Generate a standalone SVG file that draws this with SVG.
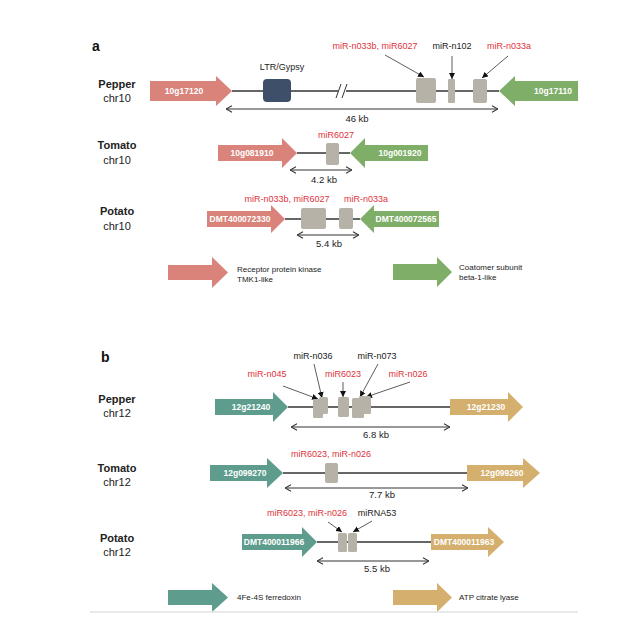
<svg xmlns="http://www.w3.org/2000/svg" width="618" height="628" viewBox="0 0 618 628">
<style>
text{font-family:"Liberation Sans",Arial,sans-serif}
.panel{font-size:14px;font-weight:bold;fill:#111}
.sp{font-size:11px;font-weight:bold;fill:#222;text-anchor:middle}
.chr{font-size:11px;fill:#222;text-anchor:middle}
.mir{font-size:9px;fill:#e0323c;text-anchor:middle}
.mirk{font-size:9px;fill:#222;text-anchor:middle}
.gene{font-size:8.5px;font-weight:bold;fill:#fff;text-anchor:middle}
.kb{font-size:9.5px;fill:#222;text-anchor:middle}
.leg{font-size:8px;fill:#222}
.red{fill:#d9837a}
.grn{fill:#7fae69}
.teal{fill:#5e9d8e}
.gold{fill:#d5af6d}
.box{fill:#b6b2a7}
.chrom{stroke:#333;stroke-width:1.5;fill:none}
.dim{stroke:#333;stroke-width:1;fill:none;marker-start:url(#open);marker-end:url(#open)}
.lead{stroke:#333;stroke-width:0.8;fill:none;marker-end:url(#tri)}
</style>
<defs>
<marker id="open" viewBox="0 0 10 10" refX="9.5" refY="5" markerWidth="8" markerHeight="8" markerUnits="userSpaceOnUse" orient="auto-start-reverse">
<path d="M2,1 L9.5,5 L2,9" fill="none" stroke="#333" stroke-width="1.3"/>
</marker>
<marker id="tri" viewBox="0 0 10 10" refX="10" refY="5" markerWidth="6" markerHeight="6" markerUnits="userSpaceOnUse" orient="auto">
<path d="M0,0 L10,5 L0,10 Z" fill="#111"/>
</marker>
</defs>
<rect width="618" height="628" fill="#fff"/>

<text class="panel" x="92" y="51">a</text>
<text class="panel" x="101" y="362">b</text>

<g id="connectors">
<!-- panel a -->
<line class="chrom" x1="232" y1="91" x2="338" y2="91"/>
<line class="chrom" x1="346" y1="91" x2="499" y2="91"/>
<path d="M336,98 L341,84 M342,98 L347,84" stroke="#333" stroke-width="1" fill="none"/>
<line class="dim" x1="226" y1="109" x2="498" y2="109"/>
<line class="lead" x1="385" y1="55" x2="424" y2="77"/>
<line class="lead" x1="452" y1="56" x2="452" y2="79"/>
<line class="lead" x1="508" y1="56" x2="482" y2="78"/>
<line class="chrom" x1="297" y1="153" x2="350" y2="153"/>
<line class="dim" x1="290" y1="170" x2="352" y2="170"/>
<line class="chrom" x1="285" y1="219" x2="360" y2="219"/>
<line class="dim" x1="297" y1="235" x2="359" y2="235"/>
<!-- panel b -->
<line class="chrom" x1="288" y1="407" x2="450" y2="407"/>
<line class="dim" x1="291" y1="427" x2="450" y2="427"/>
<line class="lead" x1="283" y1="386" x2="318" y2="399"/>
<line class="lead" x1="314" y1="364" x2="322" y2="398"/>
<line class="lead" x1="343" y1="382" x2="343" y2="397"/>
<line class="lead" x1="378" y1="364" x2="360" y2="397"/>
<line class="lead" x1="410" y1="382" x2="366" y2="397"/>
<line class="chrom" x1="283" y1="473" x2="467" y2="473"/>
<line class="dim" x1="285" y1="488" x2="468" y2="488"/>
<line class="chrom" x1="317" y1="542" x2="431" y2="542"/>
<line class="dim" x1="317" y1="561" x2="429" y2="561"/>
<line class="lead" x1="328" y1="522" x2="342" y2="532"/>
<line class="lead" x1="372" y1="521" x2="353" y2="532"/>
</g>

<g id="labels-a">
<text class="sp" x="117" y="88">Pepper</text>
<text class="chr" x="117" y="102">chr10</text>
<text class="sp" x="117" y="149">Tomato</text>
<text class="chr" x="117" y="164">chr10</text>
<text class="sp" x="117" y="215">Potato</text>
<text class="chr" x="117" y="230">chr10</text>
</g>

<g id="pepper-a">
<polygon id="g10g17120" class="red" points="150,81 216,81 216,76 232,91 216,106 216,101 150,101"/>
<text class="gene" x="184" y="94">10g17120</text>
<g id="ltr"><rect x="263" y="79" width="28" height="23" rx="4" fill="#3e5069"/><text class="mirk" x="282" y="70">LTR/Gypsy</text></g>
<rect class="box" x="416" y="78" width="20" height="25" rx="2"/>
<rect class="box" x="448" y="79" width="7" height="24" rx="1"/>
<rect class="box" x="473" y="79" width="14" height="24" rx="2"/>
<polygon id="g10g17110" class="grn" points="578,81 515,81 515,76 499,91 515,106 515,101 578,101"/>
<text class="gene" x="553" y="94">10g17110</text>
<text class="mir" x="375" y="49">miR-n033b, miR6027</text>
<text class="mirk" x="452" y="49">miR-n102</text>
<text class="mir" x="509" y="49">miR-n033a</text>
<text class="kb" x="357" y="122">46 kb</text>
</g>

<g id="tomato-a">
<polygon class="red" points="218,145 282,145 282,138 297,153 282,168 282,161 218,161"/>
<text class="gene" x="252" y="156">10g081910</text>
<rect class="box" x="326" y="143" width="13" height="22" rx="2"/>
<polygon class="grn" points="428,145 365,145 365,138 350,153 365,168 365,161 428,161"/>
<text class="gene" x="400" y="156">10g001920</text>
<text class="mir" x="336" y="138">miR6027</text>
<text class="kb" x="324" y="183">4.2 kb</text>
</g>

<g id="potato-a">
<polygon class="red" points="207,211 271,211 271,205 285,219 271,233 271,227 207,227"/>
<text class="gene" x="240" y="222">DMT400072330</text>
<rect class="box" x="301" y="208" width="25" height="21" rx="2"/>
<rect class="box" x="339" y="208" width="14" height="21" rx="2"/>
<polygon class="grn" points="439,211 374,211 374,205 360,219 374,233 374,227 439,227"/>
<text class="gene" x="406" y="222">DMT400072565</text>
<text class="mir" x="287" y="202">miR-n033b, miR6027</text>
<text class="mir" x="366" y="202">miR-n033a</text>
<text class="kb" x="329" y="247">5.4 kb</text>
</g>

<g id="legend-a">
<polygon class="red" points="168,265 212,265 212,257 228,272.5 212,288 212,280 168,280"/>
<text class="leg" x="237" y="272">Receptor protein kinase</text>
<text class="leg" x="237" y="282">TMK1-like</text>
<polygon class="grn" points="393,264 437,264 437,257 452,272 437,287 437,280 393,280"/>
<text class="leg" x="459" y="270">Coatomer subunit</text>
<text class="leg" x="459" y="280"> beta-1-like</text>
</g>

<g id="labels-b">
<text class="sp" x="117" y="403">Pepper</text>
<text class="chr" x="117" y="417">chr12</text>
<text class="sp" x="117" y="472">Tomato</text>
<text class="chr" x="117" y="486">chr12</text>
<text class="sp" x="117" y="542">Potato</text>
<text class="chr" x="117" y="556">chr12</text>
</g>

<g id="pepper-b">
<polygon class="teal" points="215,399 273,399 273,392 288,407 273,422 273,415 215,415"/>
<text class="gene" x="251" y="410">12g21240</text>
<rect class="box" x="313" y="399" width="10" height="19" rx="1.5"/>
<rect class="box" x="319" y="397" width="9" height="17" rx="1.5"/>
<rect class="box" x="338" y="397" width="11" height="20" rx="1.5"/>
<rect class="box" x="352" y="398" width="12" height="20" rx="1.5"/>
<rect class="box" x="359" y="396" width="12" height="18" rx="1.5"/>
<polygon class="gold" points="450,399 508,399 508,392 523,407 508,422 508,415 450,415"/>
<text class="gene" x="486" y="410">12g21230</text>
<text class="mirk" x="313" y="359">miR-n036</text>
<text class="mirk" x="377" y="359">miR-n073</text>
<text class="mir" x="267" y="377">miR-n045</text>
<text class="mir" x="343" y="377">miR6023</text>
<text class="mir" x="408" y="377">miR-n026</text>
<text class="kb" x="376" y="438">6.8 kb</text>
</g>

<g id="tomato-b">
<polygon class="teal" points="210,465 267,465 267,458 283,473 267,488 267,481 210,481"/>
<text class="gene" x="245" y="476">12g099270</text>
<rect class="box" x="325" y="463" width="13" height="20" rx="2"/>
<polygon class="gold" points="467,465 523,465 523,458 540,473 523,488 523,481 467,481"/>
<text class="gene" x="502" y="476">12g099260</text>
<text class="mir" x="331" y="457">miR6023, miR-n026</text>
<text class="kb" x="382" y="498">7.7 kb</text>
</g>

<g id="potato-b">
<polygon class="teal" points="242,534 302,534 302,527 317,542 302,557 302,550 242,550"/>
<text class="gene" x="274" y="545">DMT400011966</text>
<rect class="box" x="338" y="533" width="9" height="19" rx="1.5"/>
<rect class="box" x="348" y="533" width="9" height="19" rx="1.5"/>
<polygon class="gold" points="431,534 488,534 488,527 504,542 488,557 488,550 431,550"/>
<text class="gene" x="464" y="545">DMT400011963</text>
<text class="mir" x="307" y="516">miR6023, miR-n026</text>
<text class="mirk" x="377" y="516">miRNA53</text>
<text class="kb" x="377" y="572">5.5 kb</text>
</g>

<g id="legend-b">
<polygon class="teal" points="168,590 212,590 212,583 228,597.5 212,612 212,605 168,605"/>
<text class="leg" x="237" y="600">4Fe-4S ferredoxin</text>
<polygon class="gold" points="393,590 437,590 437,583 452,597.5 437,612 437,605 393,605"/>
<text class="leg" x="459" y="600">ATP citrate lyase</text>
</g>
<line x1="90" y1="612" x2="578" y2="612" stroke="#e2e2e2" stroke-width="1.5"/>
</svg>
